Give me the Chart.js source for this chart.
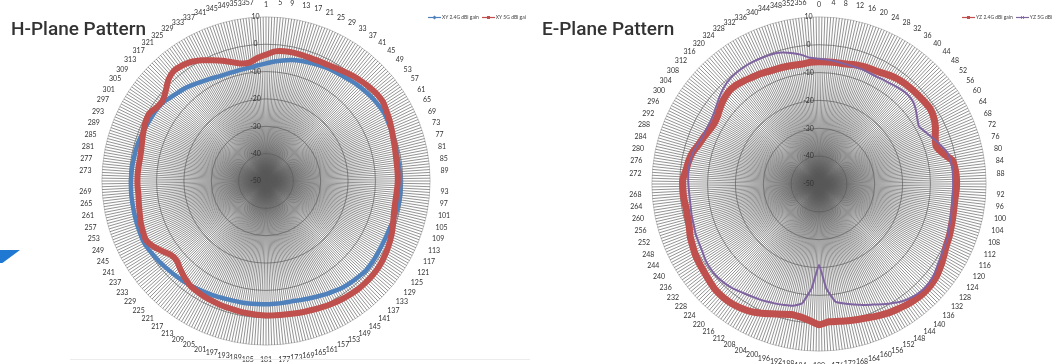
<!DOCTYPE html>
<html>
<head>
<meta charset="utf-8">
<title>H-Plane / E-Plane Pattern</title>
<script src="https://cdn.jsdelivr.net/npm/chart.js@4.4.1/dist/chart.umd.min.js"></script>
<style>
  html, body { margin: 0; padding: 0; }
  body {
    width: 1063px; height: 364px; overflow: hidden;
    position: relative; background: #fff;
    font-family: 'Lato', 'Liberation Sans', sans-serif;
  }
  .panel { position: absolute; top: 0; height: 364px; overflow: hidden; }
  .panel canvas { position: absolute; left: 0; }
  .title {
    position: absolute; top: 19px; line-height: 1;
    font-family: 'Roboto', 'Liberation Sans', sans-serif;
    font-weight: 500; font-size: 19px; color: #333;
  }
  .legend {
    position: absolute; top: 13px; height: 8px; overflow: hidden;
    white-space: nowrap; font-size: 5px; line-height: 8px; color: #404040;
  }
  .legend svg { vertical-align: middle; margin-right: 1px; }
  .legend .gap { display: inline-block; width: 3px; }
  .wedge {
    position: absolute; left: 0; top: 250px; width: 20px; height: 13px;
    background: #1f78d1;
    clip-path: polygon(0 0, 100% 0, 12% 100%, 0 100%);
  }
  .baseline { position: absolute; left: 70px; top: 359px; width: 460px; height: 1px; background: #ececec; }
</style>
</head>
<body>

<div class="panel" style="left:0; width:530px;">
  <canvas id="hPlane" width="530" height="367" style="top:-2px;"></canvas>
</div>
<div class="panel" style="left:530px; width:533px;">
  <canvas id="ePlane" width="533" height="373" style="top:-2px;"></canvas>
</div>

<div class="title" style="left:11px;">H-Plane Pattern</div>
<div class="title" style="left:542px;">E-Plane Pattern</div>

<div class="legend" style="left:428px; width:98px;">
  <svg width="13" height="5"><line x1="0" y1="2.5" x2="13" y2="2.5" stroke="#4f81bd" stroke-width="1.2"/><rect x="5" y="1" width="3" height="3" fill="#4f81bd" transform="rotate(45 6.5 2.5)"/></svg><span>XY 2.4G dBi gain</span><span class="gap"></span><svg width="13" height="5"><line x1="0" y1="2.5" x2="13" y2="2.5" stroke="#c0504d" stroke-width="1.2"/><rect x="5" y="1" width="3" height="3" fill="#c0504d"/></svg><span>XY 5G dBi gain</span>
</div>
<div class="legend" style="left:962px; width:90px;">
  <svg width="13" height="5"><line x1="0" y1="2.5" x2="13" y2="2.5" stroke="#c0504d" stroke-width="1.2"/><rect x="5" y="1" width="3" height="3" fill="#c0504d"/></svg><span>YZ 2.4G dBi gain</span><span class="gap"></span><svg width="13" height="5"><line x1="0" y1="2.5" x2="13" y2="2.5" stroke="#8064a2" stroke-width="1.2"/><path d="M5 1 L8 4 M8 1 L5 4" stroke="#8064a2" stroke-width="0.8"/></svg><span>YZ 5G dBi gain</span>
</div>

<div class="wedge"></div>
<div class="baseline"></div>

<script>
// Spoke labels: one spoke per degree, every 4th one is printed
const hAngleLabels = Array.from({ length: 360 }, (_, i) => String(i + 1));
const eAngleLabels = Array.from({ length: 360 }, (_, i) => String(i));
const LABEL_STEP = 4;

// Gain axis (dBi)
const gainMin = -50;
const gainMax = 10;
const gainStep = 10;

// Readings taken every 4 degrees (0, 4, 8 ... 356)
const hXY24 = [
  -7.0, -6.2, -5.5, -4.8, -4.3, -3.9, -3.5, -3.1, -2.8, -2.5,
  -2.0, -1.5, -1.1, -0.7, -0.4, -0.2, -0.4, -0.6, -0.8, -1.0,
  -1.1, -1.0, -0.9, -0.8, -0.7, -0.8, -1.1, -1.4, -1.6, -1.6,
  -1.5, -1.3, -1.1, -1.0, -1.3, -1.6, -2.0, -2.6, -3.2, -3.8,
  -4.3, -4.7, -5.0, -5.0, -5.0, -4.9, -4.9, -4.8, -4.7, -4.6,
  -4.4, -4.0, -3.7, -3.3, -2.9, -2.5, -2.1, -1.7, -1.2, -0.8,
  -0.3, 0.0, -0.2, -0.3, -0.4, -0.5, -0.5, -0.6, -0.7, -0.8,
  -1.0, -1.1, -1.3, -1.6, -1.9, -2.1, -2.3, -2.8, -3.8, -4.5,
  -5.2, -6.1, -6.9, -7.5, -8.1, -8.3, -8.4, -8.3, -8.1, -7.6
];
const hXY5 = [
  -3.8, -2.5, -2.1, -2.0, -2.1, -2.2, -2.1, -1.9, -1.4, -0.8,
  -0.1, 0.5, 1.1, 1.5, 1.6, 0.9, 0.3, -0.4, -1.0, -1.4,
  -1.7, -1.8, -1.8, -1.9, -2.1, -2.1, -1.8, -1.1, -0.3, 0.4,
  1.0, 1.5, 1.9, 2.0, 2.0, 1.9, 1.6, 1.3, 0.9, 0.5,
  0.1, -0.2, -0.5, -0.7, -0.8, -0.8, -1.0, -1.2, -1.4, -1.6,
  -1.7, -1.9, -2.1, -2.4, -2.8, -3.8, -5.0, -6.2, -6.0, -4.2,
  -2.3, -1.1, -1.4, -1.8, -2.4, -2.8, -3.1, -3.0, -3.0, -3.1,
  -3.2, -3.0, -2.4, -1.7, -1.0, -0.7, -1.8, -2.1, -0.7, 1.4,
  2.5, 2.2, 1.4, 0.0, -1.7, -3.2, -4.8, -6.1, -6.3, -4.9
];
const eYZ24 = [
  -6.1, -6.1, -6.0, -5.9, -5.4, -5.0, -4.7, -4.4, -3.7, -3.0,
  -2.6, -2.4, -2.2, -2.0, -1.8, -2.4, -3.5, -5.0, -5.8, -4.2,
  -1.4, -0.8, -0.6, -0.65, -0.9, -0.8, -0.5, -0.1, 0.4, 0.8,
  1.7, 2.7, 3.6, 4.1, 4.2, 4.0, 3.6, 3.0, 2.5, 1.8,
  1.1, 0.6, 0.2, -0.2, -0.4, 0.5, -0.9, -1.8, -2.1, -1.4,
  -0.4, 0.8, 1.9, 2.6, 3.1, 3.3, 3.2, 2.6, 2.0, 1.6,
  1.2, 0.5, -0.1, -1.0, -1.4, -1.5, -1.2, -1.1, -1.1, -2.0,
  -2.5, -3.2, -4.5, -5.3, -6.1, -6.5, -6.1, -5.1, -4.2, -3.6,
  -3.7, -4.2, -4.8, -5.2, -5.7, -6.0, -6.2, -6.4, -6.5, -6.2
];
const eYZ5 = [
  -5.0, -5.3, -5.6, -5.9, -6.0, -6.0, -6.2, -6.3, -6.0, -5.7,
  -5.2, -4.8, -5.0, -6.0, -7.5, -8.6, -7.5, -6.0, -4.3, -2.6,
  -2.0, -1.8, -1.85, -1.85, -1.9, -1.6, -1.2, -0.8, 0.0, 0.3,
  0.8, 1.5, 2.5, 3.1, 3.2, 2.7, 1.8, 0.4, -1.1, -2.6,
  -3.8, -5.0, -6.1, -7.3, -12.4, -21.0, -12.5, -6.8, -5.3, -4.8,
  -4.3, -3.8, -3.3, -2.8, -2.1, -1.3, -0.8, -0.5, -0.6, -0.9,
  -1.6, -2.0, -2.2, -2.7, -2.9, -3.2, -3.3, -3.2, -3.0, -2.9,
  -3.0, -3.4, -4.2, -4.9, -5.0, -5.0, -4.5, -3.5, -2.3, -1.2,
  -0.5, -0.2, -0.1, -0.15, -0.3, -0.4, -0.9, -1.9, -3.1, -4.6
];

// put each reading on its own spoke, the spokes between stay empty
function onSpokes(labels, values) {
  return labels.map((_, i) => (i % LABEL_STEP === 0 ? values[i / LABEL_STEP] : null));
}

function lineSet(label, labels, values, color, width, order, tension) {
  return {
    label: label,
    data: onSpokes(labels, values),
    borderColor: color,
    backgroundColor: color,
    borderWidth: width,
    pointRadius: 0,
    fill: false,
    spanGaps: true,
    tension: tension,
    order: order
  };
}

function makePattern(canvasId, labels, datasets, padLeft) {
  const ctx = document.getElementById(canvasId);
  return new Chart(ctx, {
    type: 'radar',
    data: { labels: labels, datasets: datasets },
    options: {
      responsive: false,
      animation: false,
      events: [],
      layout: { padding: { left: padLeft } },
      plugins: {
        legend: { display: false },
        tooltip: { enabled: false }
      },
      scales: {
        r: {
          min: gainMin,
          max: gainMax,
          ticks: {
            stepSize: gainStep,
            showLabelBackdrop: false,
            color: '#333',
            font: { family: 'Lato', size: 7 },
            // trailing en-spaces push the centred text to the left of the axis
            callback: (v) => v + '\u2002\u2002\u2002\u2002\u2002\u2002'
          },
          grid: {
            circular: true,
            color: (c) => (c.tick && c.tick.value === gainMax ? '#c4c4c4' : '#858585'),
            lineWidth: 0.9
          },
          angleLines: { color: '#585858', lineWidth: 0.65 },
          pointLabels: {
            color: '#333',
            // the top label already gets extra room from Chart.js
            padding: (c) => (c.index === 0 ? 2 : 5),
            font: { family: 'Lato', size: 7 },
            callback: (label, i) => (i % LABEL_STEP === 0 ? label : '')
          }
        }
      }
    }
  });
}

makePattern('hPlane', hAngleLabels, [
  lineSet('XY 2.4G dBi gain', hAngleLabels, hXY24, '#4f81bd', 4.5, 1, 0.2),
  lineSet('XY 5G dBi gain', hAngleLabels, hXY5, '#c0504d', 6, 0, 0.2)
], 3);

makePattern('ePlane', eAngleLabels, [
  lineSet('YZ 2.4G dBi gain', eAngleLabels, eYZ24, '#c0504d', 7, 1, 0.15),
  lineSet('YZ 5G dBi gain', eAngleLabels, eYZ5, '#8064a2', 2, 0, 0.1)
], 45);
</script>
</body>
</html>
